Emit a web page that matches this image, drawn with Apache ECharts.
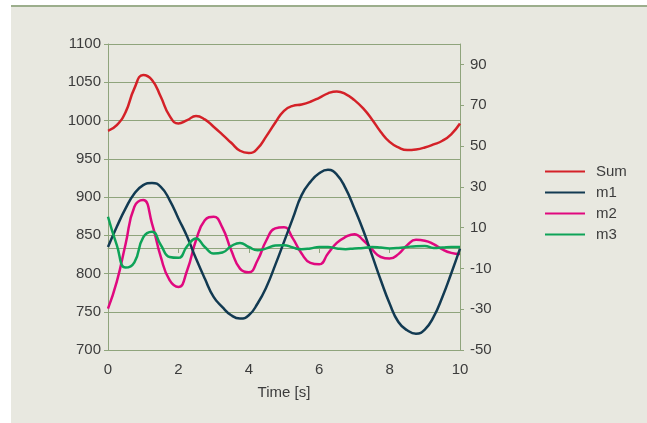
<!DOCTYPE html>
<html>
<head>
<meta charset="utf-8">
<script src="https://cdn.jsdelivr.net/npm/echarts@6/dist/echarts.min.js"></script>
<style>
  html, body { margin: 0; padding: 0; background: #ffffff; }
  #main { width: 647px; height: 423px; }
</style>
</head>
<body>
<div id="main"></div>
<script>
// time axis (s)
var time = [0, 0.25, 0.5, 0.75, 1, 1.25, 1.5, 1.75, 2, 2.25, 2.5, 2.75, 3, 3.25, 3.5, 3.75, 4, 4.25, 4.5, 4.75,
  5, 5.25, 5.5, 5.75, 6, 6.25, 6.5, 6.75, 7, 7.25, 7.5, 7.75, 8, 8.25, 8.5, 8.75, 9, 9.25, 9.5, 9.75, 10];

// Sum, left axis
var sumVals = [986.5, 994, 1011, 1042, 1059.5, 1053, 1031, 1006, 996, 1000.5, 1005.8, 1001.4, 991.8, 981.5, 970.9, 960.4, 957.4, 963.5, 979.6, 997,
  1012.7, 1019.2, 1021, 1024.5, 1029.7, 1035.5, 1038, 1034.6, 1026.7, 1015.8, 1001.4, 985, 972, 964.8, 961.3, 962.2, 964.8, 968.7, 973.5, 982, 996];

// m1, m2, m3, right axis
var m1Vals = [0.5, 10.4, 19.4, 26.7, 30.8, 31.9, 30, 23.5, 14.5, 5.5, -5.2, -15, -24, -29, -33, -34.6, -33, -27.2, -19.1, -8.4,
  3, 14.5, 25.9, 32.4, 36.6, 38.3, 36, 29.2, 19.4, 8.7, -3.5, -15.8, -27.2, -36.3, -40.3, -42, -40, -33.8, -24, -12.5, -0.3];
var m2Vals = [-29.7, -16.5, 2, 20.2, 23.5, 12, -4.4, -15.8, -19.1, -10.9, 3.8, 13.6, 15.3, 10, -1.1, -10.1, -11.9, -6, 3.8, 9.6,
  10.2, 4.7, -2.7, -7.3, -8, -2.7, 2.5, 5.4, 6.8, 3.8, -0.7, -4.4, -5.2, -3, 1.4, 4, 3.6, 1.9, -0.7, -2.4, -3];
var m3Vals = [15.3, 1.4, -9.6, -7, 5.2, 8, 1.5, -4.4, -4.8, 0.9, 4.7, 0.5, -2.7, -2.2, 0.9, 2.5, 0.5, -1.1, -0.2, 1.2,
  1.4, 0.2, -0.6, -0.2, 0.5, 0.5, -0.2, -0.6, -0.2, 0, 0.5, 0.2, -0.2, 0, 0.5, 0.9, 1, 0, 0.2, 0.5, 0.5];

var leftTicks = [700, 750, 800, 850, 900, 950, 1000, 1050, 1100];
var rightTicks = [-50, -30, -10, 10, 30, 50, 70, 90];
var xTicks = [0, 2, 4, 6, 8, 10];

function pairs(vals) {
  return time.map(function (t, i) { return [t, vals[i]]; });
}

var chart = echarts.init(document.getElementById('main'));
var gridColor = '#8fa47c';
var textColor = '#3c3c3c';
var font = '"Liberation Sans", Arial, Helvetica, sans-serif';

var option = {
  animation: false,
  textStyle: { fontFamily: font },
  graphic: [
    { type: 'rect', left: 11, top: 5, shape: { width: 636, height: 418 }, style: { fill: '#e8e8e0' }, z: -10 },
    { type: 'rect', left: 11, top: 5, shape: { width: 636, height: 2 }, style: { fill: '#9cae8c' }, z: -9 }
  ],
  grid: { left: 108, right: 187, top: 44, bottom: 73, containLabel: false },
  legend: {
    orient: 'vertical',
    left: 540,
    top: 159,
    icon: 'rect',
    itemWidth: 40,
    itemHeight: 2,
    itemGap: 6,
    textStyle: { fontSize: 15, color: textColor, fontFamily: font, padding: [0, 0, 0, 6] },
    data: ['Sum', 'm1', 'm2', 'm3']
  },
  xAxis: {
    type: 'value',
    min: xTicks[0],
    max: xTicks[xTicks.length - 1],
    interval: 2,
    name: 'Time [s]',
    nameLocation: 'middle',
    nameGap: 35,
    nameTextStyle: { fontSize: 15, color: textColor, fontFamily: font },
    axisLine: { lineStyle: { color: gridColor, width: 1 } },
    axisTick: { show: true, length: 5, lineStyle: { color: gridColor } },
    axisLabel: { fontSize: 15, color: textColor, margin: 12, fontFamily: font },
    splitLine: { show: false }
  },
  yAxis: [
    {
      type: 'value',
      min: leftTicks[0],
      max: leftTicks[leftTicks.length - 1],
      interval: 50,
      axisLine: { show: true, lineStyle: { color: gridColor, width: 1 } },
      axisTick: { show: true, length: 4, lineStyle: { color: gridColor } },
      axisLabel: { fontSize: 15, color: textColor, margin: 7, fontFamily: font,
        formatter: function (v) { return String(v); } },
      splitLine: { show: true, lineStyle: { color: gridColor, width: 1 } }
    },
    {
      type: 'value',
      position: 'right',
      min: -50,
      max: 100,
      axisLine: { show: true, lineStyle: { color: gridColor, width: 1 } },
      axisTick: { show: true, length: 4, lineStyle: { color: gridColor }, customValues: rightTicks },
      axisLabel: { fontSize: 15, color: textColor, margin: 10, fontFamily: font, customValues: rightTicks },
      splitLine: { show: false }
    }
  ],
  series: [
    { name: 'Sum', type: 'line', yAxisIndex: 0, data: pairs(sumVals), smooth: 0.5, symbol: 'none',
      lineStyle: { color: '#d42128', width: 2.5 }, itemStyle: { color: '#d42128' }, z: 5 },
    { name: 'm1', type: 'line', yAxisIndex: 1, data: pairs(m1Vals), smooth: 0.5, symbol: 'none',
      lineStyle: { color: '#123a52', width: 2.5 }, itemStyle: { color: '#123a52' }, z: 4 },
    { name: 'm2', type: 'line', yAxisIndex: 1, data: pairs(m2Vals), smooth: 0.5, symbol: 'none',
      lineStyle: { color: '#e0087f', width: 2.5 }, itemStyle: { color: '#e0087f' }, z: 3 },
    { name: 'm3', type: 'line', yAxisIndex: 1, data: pairs(m3Vals), smooth: 0.5, symbol: 'none',
      lineStyle: { color: '#0ea358', width: 2.5 }, itemStyle: { color: '#0ea358' }, z: 6 }
  ]
};
chart.setOption(option);
</script>
</body>
</html>
